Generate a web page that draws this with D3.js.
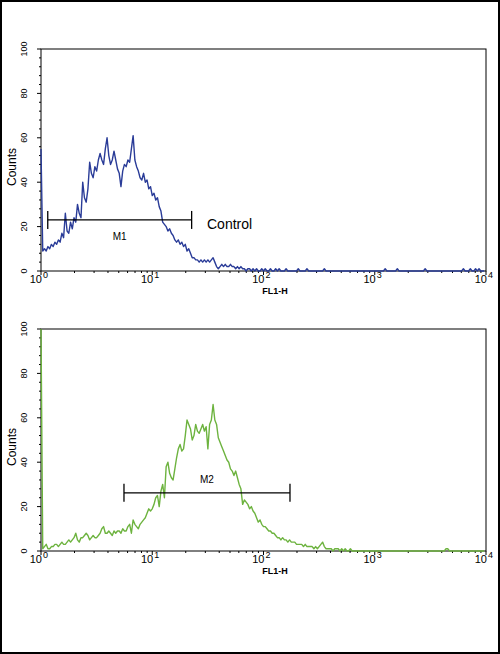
<!DOCTYPE html>
<html>
<head>
<meta charset="utf-8">
<script src="https://cdn.jsdelivr.net/npm/d3@7"></script>
<style>
body { margin: 0; background: #fff; }
text { font-family: "Liberation Sans Narrow", "Liberation Sans", Arial, sans-serif; fill: #000; }
</style>
</head>
<body>
<svg id="chart"></svg>
<script>
// decade ticks on the FL1-H axis
const decades = [1, 10, 100, 1000, 10000];
const exponents = ["0", "1", "2", "3", "4"];
const countTicks = [0, 20, 40, 60, 80, 100];

// histogram counts, one value every 4 of 1024 log channels (64 per decade)
const controlCounts = [
  55, 9, 10, 9, 11, 10, 12, 11, 13, 12,
  14, 13, 17, 15, 26, 18, 17, 22, 19, 24,
  22, 30, 26, 24, 40, 33, 31, 37, 49, 44,
  42, 47, 45, 50, 53, 50, 48, 55, 60, 52,
  48, 50, 54, 50, 46, 44, 38, 45, 48, 47,
  50, 49, 55, 61, 50, 47, 45, 42, 41, 44,
  40, 41, 37, 38, 34, 35, 32, 33, 29, 27,
  22, 21, 20, 18, 19, 17, 16, 14, 13, 14,
  12, 13, 11, 12, 9, 10, 8, 6, 6, 5,
  5, 4, 5, 4, 5, 4, 5, 4, 5, 6,
  4, 2, 1, 2, 3, 2, 3, 2, 2, 3,
  2, 2, 1, 2, 1, 2, 1, 1, 0, 1,
  1, 0, 1, 0, 1, 0,
  0, 1, 0, 1, 0, 0, 1, 0, 0, 1,
  0, 1, 0, 0, 0, 1, 0, 0, 0, 0,
  0, 0, 1, 0, 0, 0, 0, 1, 0, 0,
  0, 0, 0, 0, 0, 0, 0, 1, 0, 0,
  0, 0, 0, 0, 0, 0, 0, 0, 0, 0,
  0, 0, 0, 0, 0, 0, 0, 0, 0, 0,
  0, 0, 0, 0, 0, 0, 0, 0, 0, 0,
  0, 0, 1, 0, 0, 0, 0, 0, 0, 1,
  0, 0, 0, 0, 0, 0, 0, 0, 0, 0,
  0, 0, 0, 0, 0, 1, 0, 0, 0, 0,
  0, 0, 0, 0, 0, 0, 0, 0, 0, 0,
  0, 0, 0, 0, 0, 0, 0, 1, 0, 0,
  0, 1, 0, 0, 1, 0, 1, 0, 0, 0
];

const sampleCounts = [
  100, 1, 2, 3, 1, 1, 2, 2, 3, 3,
  2, 3, 4, 3, 3, 4, 5, 4, 5, 6,
  8, 5, 4, 6, 6, 7, 8, 7, 5, 6,
  7, 6, 6, 7, 8, 10, 11, 8, 8, 9,
  8, 7, 9, 8, 9, 9, 8, 10, 9, 9,
  11, 12, 8, 14, 12, 11, 10, 12, 13, 14,
  15, 17, 19, 18, 19, 21, 24, 25, 20, 27,
  30, 24, 38, 40, 35, 33, 32, 37, 42, 46,
  48, 45, 46, 52, 59, 57, 55, 50, 52, 57,
  54, 53, 55, 57, 54, 56, 46, 57, 59, 66,
  59, 57, 51, 49, 47, 45, 43, 41, 40, 37,
  36, 34, 36, 33, 30, 28, 21, 23, 22, 21,
  19, 20, 18, 17, 15, 13, 14, 12, 11, 11,
  10, 9, 9, 8, 8, 7, 6, 6, 5, 6,
  5, 5, 4, 5, 4, 4, 4, 3, 3, 3,
  3, 2, 3, 2, 2, 2, 2, 1, 2, 1,
  2, 3, 4, 2, 1, 1, 1, 1, 0, 1,
  1, 1, 0, 1, 0, 1, 0, 0, 1, 0,
  0, 0, 0, 0, 0, 0, 0, 0, 0, 0,
  0, 0, 0, 0, 0, 0, 0, 0, 0, 0,
  0, 0, 0, 0, 0, 0, 0, 0, 0, 0,
  0, 0, 0, 0, 0, 0, 0, 0, 0, 0,
  0, 0, 0, 0, 0, 0, 0, 0, 0, 0,
  0, 0, 0, 1, 1, 0, 0, 0, 0, 0,
  0, 0, 0, 0, 0, 0, 0, 0, 0, 0,
  0, 0, 0, 0, 0, 0
];

// gate markers
const markerLabels = ["M1", "M2"];
const markerFrom = [1.15, 5.57];
const markerTo = [22.6, 173];
const markerLevel = [23, 26.2];

const width = 500;
const height = 654;
const left = 41, right = 486, plotH = 222;
const panelTops = [49, 329];

const svg = d3.select("#chart")
  .attr("width", width)
  .attr("height", height);

svg.append("rect")
  .attr("x", 1).attr("y", 1)
  .attr("width", width - 2).attr("height", height - 2)
  .attr("fill", "#fff")
  .attr("stroke", "#000")
  .attr("stroke-width", 2);

const x = d3.scaleLog().domain([1, 10000]).range([left, right]);
const channelValue = i => Math.pow(10, i / 64);

function drawPanel(top, counts, color, m, showControl) {
  const y = d3.scaleLinear().domain([0, 100]).range([top + plotH, top]);
  const g = svg.append("g");
  const bottom = top + plotH;

  // frame
  g.append("rect")
    .attr("x", left).attr("y", top)
    .attr("width", right - left).attr("height", plotH)
    .attr("fill", "none")
    .attr("stroke", "#000")
    .attr("stroke-width", 1);

  // y ticks
  const minorY = d3.range(0, 101, 4).filter(v => v % 20 !== 0);
  g.selectAll(".ymin").data(minorY).enter().append("line")
    .attr("x1", left - 2).attr("x2", left)
    .attr("y1", d => y(d)).attr("y2", d => y(d))
    .attr("stroke", "#000");
  g.selectAll(".ymaj").data(countTicks).enter().append("line")
    .attr("x1", left - 4).attr("x2", left)
    .attr("y1", d => y(d)).attr("y2", d => y(d))
    .attr("stroke", "#000");
  g.selectAll(".ylab").data(countTicks).enter().append("text")
    .attr("transform", d => `translate(27,${y(d)}) rotate(-90)`)
    .attr("text-anchor", "middle")
    .attr("font-size", 9)
    .text(d => d);

  g.append("text")
    .attr("transform", `translate(16,${top + plotH / 2 + 7}) rotate(-90)`)
    .attr("text-anchor", "middle")
    .attr("font-size", 12)
    .text("Counts");

  // x ticks
  const minorX = [];
  decades.slice(0, 4).forEach(d => {
    for (let k = 2; k < 10; k++) minorX.push(d * k);
  });
  g.selectAll(".xmin").data(minorX).enter().append("line")
    .attr("x1", d => x(d)).attr("x2", d => x(d))
    .attr("y1", bottom).attr("y2", bottom + 2)
    .attr("stroke", "#000");
  g.selectAll(".xmaj").data(decades).enter().append("line")
    .attr("x1", d => x(d)).attr("x2", d => x(d))
    .attr("y1", bottom).attr("y2", bottom + 4)
    .attr("stroke", "#000");

  decades.forEach((d, i) => {
    g.append("text")
      .attr("x", x(d) + 1).attr("y", bottom + 12)
      .attr("text-anchor", "end")
      .attr("font-size", 11)
      .text("10");
    g.append("text")
      .attr("x", x(d) + 2).attr("y", bottom + 7)
      .attr("font-size", 9)
      .text(exponents[i]);
  });

  g.append("text")
    .attr("x", 275).attr("y", bottom + 23)
    .attr("text-anchor", "middle")
    .attr("font-size", 9)
    .attr("font-weight", "bold")
    .text("FL1-H");

  // histogram
  const clipId = "clip" + top;
  svg.append("clipPath").attr("id", clipId)
    .append("rect")
    .attr("x", left - 1).attr("y", top)
    .attr("width", right - left + 2).attr("height", plotH + 1);

  const line = d3.line()
    .x((d, i) => x(channelValue(i)))
    .y(d => y(Math.min(d, 100)));

  g.append("path")
    .datum(counts)
    .attr("clip-path", `url(#${clipId})`)
    .attr("fill", "none")
    .attr("stroke", color)
    .attr("stroke-width", 1.4)
    .attr("stroke-linejoin", "round")
    .attr("d", line);

  // gate marker
  const x1 = x(markerFrom[m]), x2 = x(markerTo[m]), ym = y(markerLevel[m]);
  g.append("line")
    .attr("x1", x1).attr("x2", x2).attr("y1", ym).attr("y2", ym)
    .attr("stroke", "#000").attr("stroke-width", 1.3);
  [x1, x2].forEach(xx => {
    g.append("line")
      .attr("x1", xx).attr("x2", xx).attr("y1", ym - 9).attr("y2", ym + 9)
      .attr("stroke", "#000").attr("stroke-width", 1.3);
  });
  const mid = Math.sqrt(markerFrom[m] * markerTo[m]);
  g.append("text")
    .attr("x", x(mid)).attr("y", m === 0 ? ym + 20 : ym - 10)
    .attr("text-anchor", "middle")
    .attr("font-size", 10)
    .text(markerLabels[m]);

  if (showControl) {
    g.append("text")
      .attr("x", 207).attr("y", ym + 9)
      .attr("font-family", "Liberation Sans, Arial, sans-serif")
      .attr("font-size", 14)
      .text("Control");
  }
}

drawPanel(panelTops[0], controlCounts, "#2a3c98", 0, true);
drawPanel(panelTops[1], sampleCounts, "#6db33f", 1, false);
</script>
</body>
</html>
